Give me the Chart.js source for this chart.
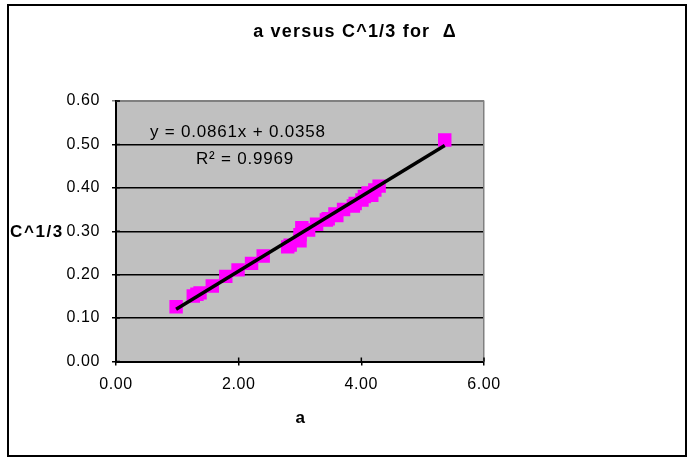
<!DOCTYPE html>
<html>
<head>
<meta charset="utf-8">
<script src="https://cdn.jsdelivr.net/npm/chart.js@4/dist/chart.umd.min.js"></script>
<style>
  html, body { margin: 0; padding: 0; background: #ffffff; }
  #wrap { width: 694px; height: 458px; }
</style>
</head>
<body>
<div id="wrap"><canvas id="chart" width="694" height="458"></canvas></div>
<script>
// Measured lattice parameter a and cube root of concentration
const aValues = [0.98, 1.26, 1.32, 1.37, 1.57, 1.79, 1.99, 2.21, 2.40, 2.80, 2.84, 3.00, 3.00, 3.03, 3.14,
                 3.27, 3.43, 3.46, 3.57, 3.60, 3.71, 3.87, 3.90, 4.01, 4.05, 4.11, 4.17, 4.22, 4.29, 5.36];
const cRootValues = [0.126, 0.151, 0.155, 0.158, 0.174, 0.196, 0.211, 0.226, 0.243, 0.264, 0.268, 0.278, 0.292, 0.308, 0.303,
                     0.316, 0.326, 0.329, 0.340, 0.336, 0.350, 0.358, 0.364, 0.372, 0.380, 0.388, 0.383, 0.395, 0.404, 0.510];

// Linear trendline reported for the series
const slope = 0.0861;
const intercept = 0.0358;
const rSquared = 0.9969;

// Axis ranges and tick steps
const xRange = [0, 6];
const xStep = 2;
const yRange = [0, 0.6];
const yStep = 0.1;

const chartTitle = 'a versus C^1/3 for  \u0394';
const xTitle = 'a';
const yTitle = 'C^1/3';

const FONT = '"Liberation Sans", Arial, Helvetica, sans-serif';
Chart.defaults.font.family = FONT;
Chart.defaults.color = '#000000';

const points = aValues.map((a, i) => ({ x: a, y: cRootValues[i] }));
const xMin = Math.min(...aValues);
const xMax = Math.max(...aValues);
const trend = [xMin, xMax].map(x => ({ x: x, y: slope * x + intercept }));

// Slightly wider glyph spacing for all canvas text
const spacingPlugin = {
  id: 'spacing',
  beforeUpdate(chart) { chart.ctx.letterSpacing = '0.6px'; },
  beforeDraw(chart) { chart.ctx.letterSpacing = '0.6px'; }
};

// Grey plot area and the outer frame
const backdropPlugin = {
  id: 'backdrop',
  beforeDraw(chart) {
    const { ctx, chartArea: ca } = chart;
    ctx.save();
    ctx.fillStyle = '#ffffff';
    ctx.fillRect(0, 0, chart.width, chart.height);
    ctx.fillStyle = '#c0c0c0';
    ctx.fillRect(ca.left, ca.top, ca.right - ca.left, ca.bottom - ca.top);
    ctx.strokeStyle = '#000000';
    ctx.lineWidth = 2;
    ctx.strokeRect(8, 5, 678, 451);
    ctx.restore();
  }
};

// Plot frame edges, inner tick halves and the text labels
const overlayPlugin = {
  id: 'overlay',
  afterDraw(chart) {
    const { ctx, chartArea: ca, scales } = chart;
    ctx.save();
    // top and right edges of the plot area
    ctx.strokeStyle = '#808080';
    ctx.lineWidth = 1.5;
    ctx.beginPath();
    ctx.moveTo(ca.left, ca.top + 0.25);
    ctx.lineTo(ca.right - 0.25, ca.top + 0.25);
    ctx.lineTo(ca.right - 0.25, ca.bottom);
    ctx.stroke();

    // tick marks crossing into the plot
    ctx.strokeStyle = '#000000';
    ctx.lineWidth = 1.5;
    ctx.beginPath();
    scales.y.ticks.forEach(t => {
      const py = scales.y.getPixelForValue(t.value);
      ctx.moveTo(ca.left, py);
      ctx.lineTo(ca.left + 4, py);
    });
    scales.x.ticks.forEach(t => {
      const px = scales.x.getPixelForValue(t.value);
      ctx.moveTo(px, ca.bottom);
      ctx.lineTo(px, ca.bottom - 4);
    });
    ctx.stroke();

    ctx.fillStyle = '#000000';
    ctx.textBaseline = 'alphabetic';

    // chart title
    ctx.letterSpacing = '1.2px';
    ctx.font = 'bold 18px ' + FONT;
    ctx.textAlign = 'center';
    ctx.fillText(chartTitle, 355, 37);

    // axis titles
    ctx.letterSpacing = '1.6px';
    ctx.font = 'bold 17px ' + FONT;
    ctx.textAlign = 'left';
    ctx.fillText(yTitle, 10, 237);
    ctx.textAlign = 'center';
    ctx.fillText(xTitle, 301, 423);

    // trendline equation
    ctx.letterSpacing = '0.8px';
    ctx.font = '17px ' + FONT;
    ctx.textAlign = 'left';
    ctx.fillText('y = ' + slope.toFixed(4) + 'x + ' + intercept.toFixed(4), 150, 137);
    ctx.fillText('R\u00B2 = ' + rSquared.toFixed(4), 196, 164);
    ctx.restore();
  }
};

new Chart(document.getElementById('chart'), {
  type: 'scatter',
  data: {
    datasets: [
      {
        type: 'line',
        label: 'Linear fit',
        data: trend,
        borderColor: '#000000',
        borderWidth: 3.5,
        pointRadius: 0,
        fill: false,
        order: 0
      },
      {
        label: 'a vs C^1/3',
        data: points,
        pointStyle: 'rect',
        pointRadius: 9.5,
        pointHoverRadius: 9.5,
        pointBorderWidth: 0,
        backgroundColor: '#ff00ff',
        borderColor: '#ff00ff',
        order: 1
      }
    ]
  },
  options: {
    responsive: false,
    animation: false,
    devicePixelRatio: 1,
    layout: { padding: { top: 101, right: 210, left: 0, bottom: 0 } },
    plugins: {
      legend: { display: false },
      tooltip: { enabled: false },
      title: { display: false }
    },
    scales: {
      x: {
        type: 'linear',
        min: xRange[0],
        max: xRange[1],
        afterFit(scale) { scale.height = 96.5; },
        ticks: {
          stepSize: xStep,
          padding: 9,
          font: { size: 16 },
          color: '#000000',
          callback: v => Number(v).toFixed(2)
        },
        grid: { drawOnChartArea: false, drawTicks: true, tickLength: 4, color: '#000000', lineWidth: 1.5 },
        border: { display: true, color: '#000000', width: 2 }
      },
      y: {
        type: 'linear',
        min: yRange[0],
        max: yRange[1],
        afterFit(scale) { scale.width = 116; },
        ticks: {
          stepSize: yStep,
          padding: 12,
          font: { size: 16 },
          color: '#000000',
          callback: v => Number(v).toFixed(2)
        },
        grid: {
          drawTicks: true,
          tickLength: 4,
          lineWidth: 1.5,
          color: c => (c.tick && c.tick.value > yRange[1] - 1e-9) ? '#808080' : '#000000'
        },
        border: { display: true, color: '#000000', width: 2 }
      }
    }
  },
  plugins: [spacingPlugin, backdropPlugin, overlayPlugin]
});
</script>
</body>
</html>
